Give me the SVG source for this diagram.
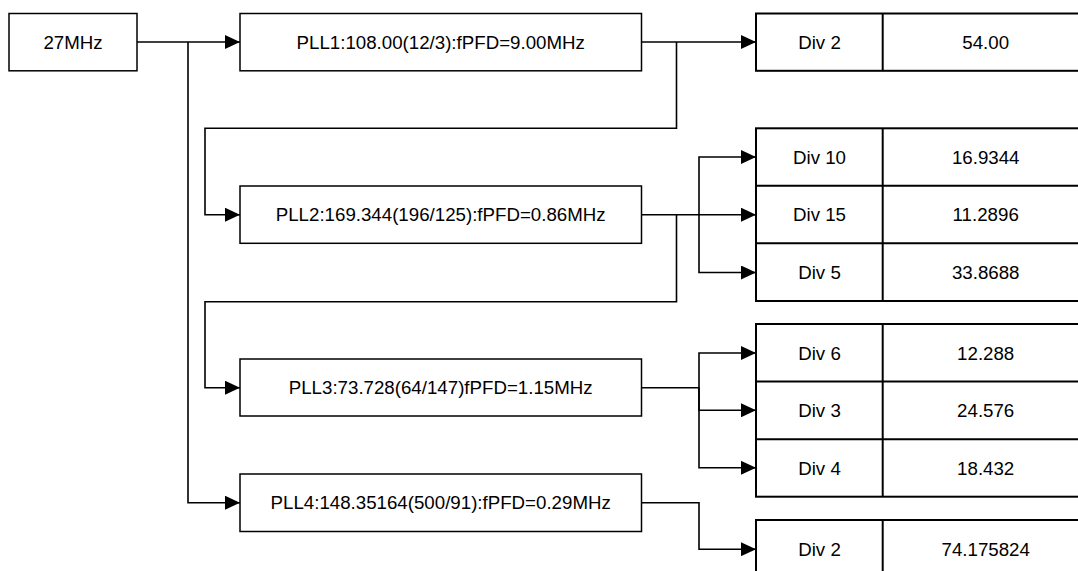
<svg xmlns="http://www.w3.org/2000/svg" width="1078" height="571" viewBox="0 0 1078 571">
<style>
  .box { fill: #ffffff; stroke: #000000; stroke-width: 1.5; }
  .tbl { fill: #ffffff; stroke: #000000; stroke-width: 2; }
  .div { stroke: #000000; stroke-width: 2; fill: none; }
  .t { font-family: "Liberation Sans", Arial, sans-serif; font-size: 18.7px; fill: #000000; text-anchor: middle; }
  .c { fill: none; stroke: #000000; stroke-width: 1.6; }
</style>
<defs>
  <marker id="arr" markerWidth="15" markerHeight="14" refX="15" refY="7" orient="auto" markerUnits="userSpaceOnUse">
    <path d="M0,0 L15,7 L0,14 Z" fill="#000000"/>
  </marker>
</defs>
<rect width="1078" height="571" fill="#ffffff"/>

<g id="connectors">
  <path class="c" d="M137,42 H240" marker-end="url(#arr)"/>
  <path class="c" d="M188,42 V502.7 H240" marker-end="url(#arr)"/>
  <path class="c" d="M641.5,42 H756" marker-end="url(#arr)"/>
  <path class="c" d="M676.5,42 V128.3 H205 V214.7 H240" marker-end="url(#arr)"/>
  <path class="c" d="M641.5,214.7 H756" marker-end="url(#arr)"/>
  <path class="c" d="M699,214.7 V157 H756" marker-end="url(#arr)"/>
  <path class="c" d="M699,214.7 V272.5 H756" marker-end="url(#arr)"/>
  <path class="c" d="M676.5,214.7 V301.7 H205 V387.7 H240" marker-end="url(#arr)"/>
  <path class="c" d="M641.5,387.7 H699 V353 H756" marker-end="url(#arr)"/>
  <path class="c" d="M699,387.7 V410.3 H756" marker-end="url(#arr)"/>
  <path class="c" d="M699,387.7 V467.8 H756" marker-end="url(#arr)"/>
  <path class="c" d="M641.5,502.7 H699 V549.2 H756" marker-end="url(#arr)"/>
</g>

<g id="src">
  <rect class="box" x="9" y="13.5" width="128" height="57.3"/>
  <text class="t" x="73" y="48.7">27MHz</text>
</g>

<g id="pll1">
  <rect class="box" x="240" y="13.5" width="401.5" height="57.3"/>
  <text class="t" x="440.7" y="48.7">PLL1:108.00(12/3):fPFD=9.00MHz</text>
</g>

<g id="pll2">
  <rect class="box" x="240" y="186" width="401.5" height="57.3"/>
  <text class="t" x="440.7" y="221.3">PLL2:169.344(196/125):fPFD=0.86MHz</text>
</g>

<g id="pll3">
  <rect class="box" x="240" y="359" width="401.5" height="57"/>
  <text class="t" x="440.7" y="394.2">PLL3:73.728(64/147)fPFD=1.15MHz</text>
</g>

<g id="pll4">
  <rect class="box" x="240" y="474" width="401.5" height="57.5"/>
  <text class="t" x="440.7" y="509.4">PLL4:148.35164(500/91):fPFD=0.29MHz</text>
</g>

<g id="out1">
  <rect class="tbl" x="756" y="13.5" width="333" height="57.3"/>
  <line class="div" x1="882.7" y1="13.5" x2="882.7" y2="70.8"/>
  <text class="t" x="819.5" y="48.7">Div 2</text>
  <text class="t" x="985.7" y="48.7">54.00</text>
</g>

<g id="out2">
  <rect class="tbl" x="756" y="128.3" width="333" height="172.7"/>
  <line class="div" x1="756" y1="185.8" x2="1089" y2="185.8"/>
  <line class="div" x1="756" y1="243.3" x2="1089" y2="243.3"/>
  <line class="div" x1="882.7" y1="128.3" x2="882.7" y2="301"/>
  <text class="t" x="819.5" y="163.7">Div 10</text>
  <text class="t" x="985.7" y="163.7">16.9344</text>
  <text class="t" x="819.5" y="221.2">Div 15</text>
  <text class="t" x="985.7" y="221.2">11.2896</text>
  <text class="t" x="819.5" y="278.8">Div 5</text>
  <text class="t" x="985.7" y="278.8">33.8688</text>
</g>

<g id="out3">
  <rect class="tbl" x="756" y="324" width="333" height="172.7"/>
  <line class="div" x1="756" y1="381.6" x2="1089" y2="381.6"/>
  <line class="div" x1="756" y1="439.2" x2="1089" y2="439.2"/>
  <line class="div" x1="882.7" y1="324" x2="882.7" y2="496.7"/>
  <text class="t" x="819.5" y="359.5">Div 6</text>
  <text class="t" x="985.7" y="359.5">12.288</text>
  <text class="t" x="819.5" y="417">Div 3</text>
  <text class="t" x="985.7" y="417">24.576</text>
  <text class="t" x="819.5" y="474.6">Div 4</text>
  <text class="t" x="985.7" y="474.6">18.432</text>
</g>

<g id="out4">
  <rect class="tbl" x="756" y="520" width="333" height="57.5"/>
  <line class="div" x1="882.7" y1="520" x2="882.7" y2="577.5"/>
  <text class="t" x="819.5" y="555.7">Div 2</text>
  <text class="t" x="985.7" y="555.7">74.175824</text>
</g>
</svg>
